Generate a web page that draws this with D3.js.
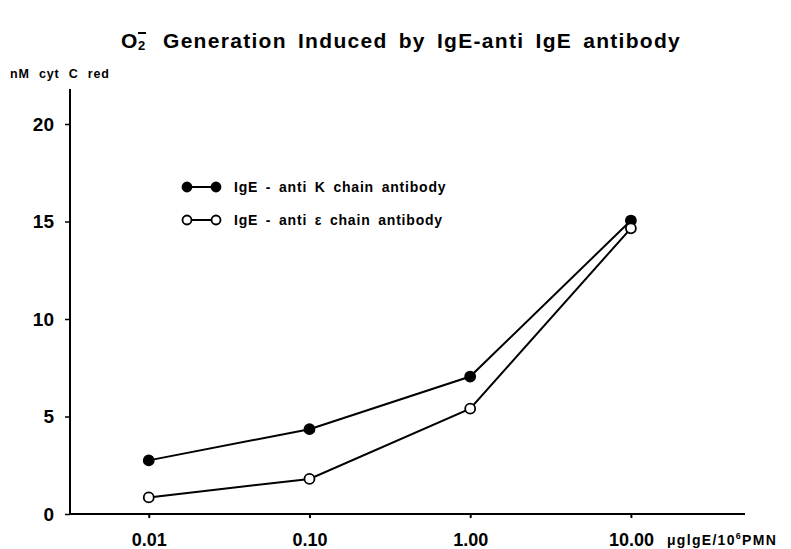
<!DOCTYPE html>
<html>
<head>
<meta charset="utf-8">
<script src="https://cdn.jsdelivr.net/npm/d3@7"></script>
<style>
  body { margin: 0; background: #fff; }
  text { font-family: "Liberation Sans", Arial, sans-serif; font-weight: bold; fill: #000; }
</style>
</head>
<body>
<div id="chart"></div>
<script>
const doses = [0.01, 0.10, 1.00, 10.00]
const tickLabels = ["0.01", "0.10", "1.00", "10.00"]
const kappaValues = [2.75, 4.35, 7.05, 15.05]
const epsilonValues = [0.85, 1.8, 5.4, 14.65]
const yTicks = [0, 5, 10, 15, 20]
const seriesNames = ["IgE - anti K chain antibody", "IgE - anti \u03b5 chain antibody"]

const W = 791, H = 549
const margin = {top: 89, right: 46, bottom: 35, left: 70},
  width = W - margin.left - margin.right,
  height = H - margin.top - margin.bottom;

const x = d3.scaleLog().domain([Math.pow(10, -2.49), Math.pow(10, 1.71)]).range([0, width])
const y = d3.scaleLinear().domain([0, 20]).range([425, 35])

const svg = d3.select("#chart")
  .append("svg")
    .attr("width", W)
    .attr("height", H)

// title: O2 with superscript minus drawn as a short bar
const tY = 48
svg.append("text").attr("x", 121).attr("y", tY).style("font-size", "21px").text("O")
svg.append("text").attr("x", 138).attr("y", tY + 2).style("font-size", "13px").text("2")
svg.append("line").attr("x1", 138).attr("x2", 146).attr("y1", tY - 15).attr("y2", tY - 15)
  .attr("stroke", "#000").attr("stroke-width", 2)
svg.append("text").attr("x", 163).attr("y", tY).style("font-size", "21px")
  .style("letter-spacing", "1.3px").style("word-spacing", "4px")
  .text("Generation Induced by IgE-anti IgE  antibody")

const g = svg.append("g")
  .attr("transform", "translate(" + margin.left + "," + margin.top + ")");

//x axis
const xAxis = g.append("g")
  .attr("transform", "translate(0," + y(0) + ")")
  .call(d3.axisBottom(x).tickValues(doses).tickSize(4).tickFormat((d, i) => tickLabels[i]))
xAxis.select(".domain").attr("stroke-width", 2).attr("d", "M0,0H" + width)
xAxis.selectAll(".tick line").attr("stroke-width", 2)
xAxis.selectAll(".tick text").attr("dy", 0).attr("y", 32).style("font-size", "18px")

//y axis
const yAxis = g.append("g")
  .call(d3.axisLeft(y).tickValues(yTicks).tickSize(5))
yAxis.select(".domain").attr("stroke-width", 2).attr("d", "M0,0V" + y(0))
yAxis.selectAll(".tick line").attr("stroke-width", 1.5)
yAxis.selectAll(".tick text").attr("x", -16).style("font-size", "19px")

svg.append("text").attr("x", 10).attr("y", 78).style("font-size", "12.5px")
  .style("letter-spacing", "0.8px").style("word-spacing", "5px")
  .text("nM cyt C red")
svg.append("text").attr("x", 667).attr("y", 545).style("font-size", "14px")
  .style("letter-spacing", "1.3px")
  .html("\u03bcglgE/10<tspan dy='-6' style='font-size:9px'>6</tspan><tspan dy='6'>PMN</tspan>")

const line = d3.line().x((d, i) => x(doses[i])).y(d => y(d))

const series = [
  {vals: kappaValues, fill: "#000"},
  {vals: epsilonValues, fill: "#fff"}
]
series.forEach(s => {
  g.append("path").datum(s.vals)
    .attr("d", line).attr("fill", "none").attr("stroke", "#000").attr("stroke-width", 2)
  g.selectAll(null).data(s.vals).enter().append("circle")
    .attr("cx", (d, i) => x(doses[i]))
    .attr("cy", d => y(d))
    .attr("r", 5)
    .attr("fill", s.fill).attr("stroke", "#000").attr("stroke-width", 1.8)
})

// legend
const legend = svg.append("g")
series.forEach((s, i) => {
  const ly = 187 + i * 33
  legend.append("line").attr("x1", 187).attr("x2", 216).attr("y1", ly).attr("y2", ly)
    .attr("stroke", "#000").attr("stroke-width", 2)
  ;[187, 216].forEach(cx => legend.append("circle").attr("cx", cx).attr("cy", ly).attr("r", 4.5)
    .attr("fill", s.fill).attr("stroke", "#000").attr("stroke-width", 1.8))
  legend.append("text").attr("x", 234).attr("y", ly + 5).style("font-size", "14px")
    .style("letter-spacing", "0.8px").style("word-spacing", "3px")
    .text(seriesNames[i])
})
</script>
</body>
</html>
